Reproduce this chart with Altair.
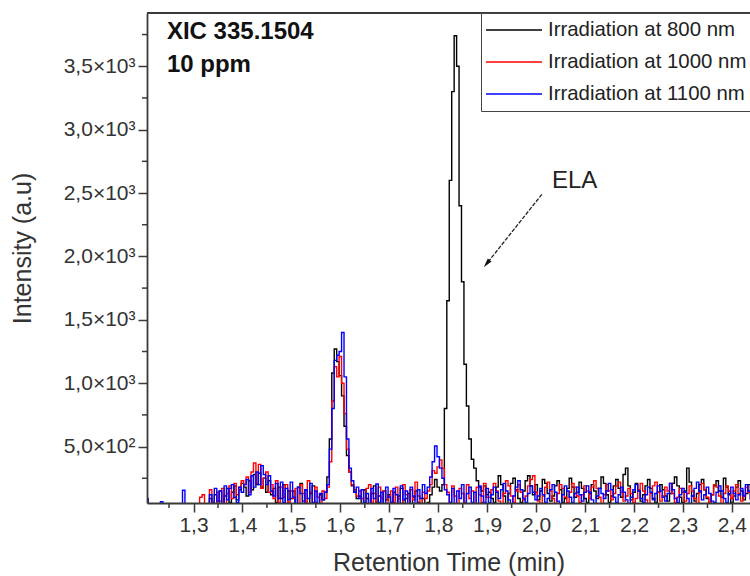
import altair as alt
import pandas as pd

# Sampling grid of the chromatograms (min)
T0 = 1.205
DT = 0.005

# XIC 335.1504 intensities (a.u.), one value per sample
BLACK_800 = [
    0, 0, 0, 0, 0, 0, 0, 0, 0, 0, 0, 0, 0, 0, 0, 0, 0, 0, 0, 0,
    0, 0, 0, 0, 0, 40, 90, 20, 120, 50, 150, 30, 110, 170, 60, 140, 190, 80, 160, 210,
    180, 110, 230, 160, 280, 200, 290, 180, 250, 140, 230, 120, 170, 60, 180, 90, 200, 50, 150, 90,
    150, 50, 180, 210, 70, 160, 40, 130, 190, 60, 40, 120, 80, 140, 260, 560, 1080, 1270, 1170, 1060,
    900, 660, 430, 300, 190, 140, 90, 110, 50, 160, 90, 40, 130, 190, 60, 110, 40, 150, 80, 120,
    60, 140, 40, 110, 170, 50, 90, 130, 40, 100, 150, 60, 40, 90, 50, 60, 120, 180, 240, 180,
    150, 200, 800, 1650, 2600, 3300, 3740, 3500, 2400, 1800, 1150, 820, 560, 400, 330, 230, 180, 150, 190, 120,
    140, 90, 60, 180, 270, 200, 110, 50, 130, 210, 250, 160, 90, 60, 150, 230, 270, 190, 120, 200,
    80, 150, 240, 210, 130, 70, 110, 190, 230, 160, 60, 90, 170, 250, 180, 100, 140, 220, 170, 90,
    60, 130, 200, 150, 90, 170, 260, 210, 120, 60, 110, 190, 240, 170, 100, 280, 330, 190, 80, 140,
    210, 150, 70, 120, 190, 240, 170, 90, 60, 140, 200, 160, 110, 70, 130, 210, 260, 190, 100, 60,
    150, 330, 220, 110, 70, 130, 200, 240, 160, 90, 50, 120, 190, 230, 150, 100, 250, 180, 120, 60,
    110, 180, 230, 150, 80, 130, 200, 160,
]
RED_1000 = [
    0, 0, 0, 0, 0, 0, 0, 0, 0, 0, 0, 0, 0, 0, 0, 0, 0, 0, 0, 0,
    0, 0, 100, 120, 0, 40, 160, 60, 30, 140, 70, 170, 50, 130, 190, 90, 210, 120, 180, 230,
    200, 260, 140, 300, 370, 210, 360, 170, 250, 300, 140, 200, 90, 230, 60, 180, 100, 200, 60, 150,
    90, 170, 40, 200, 130, 60, 230, 140, 50, 180, 100, 40, 150, 90, 180, 380, 860, 1130, 1050, 1210,
    1000, 760, 480, 300, 200, 160, 110, 150, 90, 40, 170, 200, 60, 130, 40, 180, 90, 150, 50, 110,
    150, 60, 180, 90, 40, 200, 120, 50, 160, 80, 220, 110, 50, 140, 90, 150, 200, 310, 290, 340,
    395, 330, 200, 140, 60, 190, 110, 40, 170, 130, 60, 200, 90, 150, 40, 180, 120, 60, 210, 100,
    100, 160, 210, 150, 70, 40, 130, 230, 190, 110, 60, 150, 200, 140, 80, 110, 190, 240, 270, 140,
    70, 40, 110, 180, 220, 150, 90, 50, 130, 200, 170, 100, 60, 140, 210, 180, 110, 60, 120, 190,
    150, 90, 180, 230, 170, 100, 50, 120, 200, 150, 80, 130, 190, 220, 140, 70, 110, 170, 130, 60,
    90, 160, 210, 150, 80, 40, 130, 190, 220, 140, 70, 110, 180, 150, 210, 130, 60, 100, 170, 140,
    70, 130, 190, 150, 90, 50, 140, 210, 160, 100, 60, 120, 200, 180, 110, 50, 130, 190, 150, 90,
    150, 200, 130, 70, 110, 180, 140, 80,
]
BLUE_1100 = [
    90, 20, 0, 0, 0, 0, 65, 0, 0, 0, 0, 0, 0, 0, 0, 155, 0, 0, 0, 0,
    0, 0, 0, 0, 0, 0, 120, 40, 170, 70, 150, 50, 190, 80, 170, 200, 100, 60, 180, 140,
    200, 240, 120, 270, 180, 300, 200, 350, 280, 200, 270, 150, 110, 210, 90, 220, 60, 170, 80, 220,
    100, 50, 180, 130, 40, 160, 90, 210, 60, 150, 40, 130, 80, 140, 200, 480, 800, 1180, 1220, 1250,
    1400, 1050, 560, 330, 230, 140, 180, 90, 160, 60, 130, 40, 170, 90, 205, 60, 140, 40, 180, 100,
    60, 170, 120, 40, 190, 80, 150, 50, 180, 110, 40, 160, 90, 200, 130, 180, 260, 380, 505, 420,
    330, 250, 160, 120, 60, 170, 40, 150, 90, 200, 50, 130, 180, 60, 140, 40, 190, 110, 60, 170,
    60, 120, 180, 140, 90, 160, 210, 150, 80, 40, 110, 180, 230, 160, 90, 60, 130, 190, 140, 80,
    110, 170, 120, 60, 90, 160, 200, 140, 70, 50, 120, 190, 150, 100, 60, 130, 180, 120, 70, 140,
    190, 140, 80, 50, 110, 170, 130, 90, 150, 210, 160, 100, 60, 120, 180, 140, 80, 50, 100, 160,
    200, 150, 90, 60, 120, 180, 140, 80, 130, 190, 150, 100, 70, 130, 210, 160, 90, 60, 120, 170,
    140, 90, 50, 110, 170, 220, 150, 80, 120, 180, 130, 70, 60, 140, 190, 150, 90, 60, 130, 180,
    130, 80, 120, 170, 110, 200, 150, 90,
]

SERIES = ["Irradiation at 800 nm", "Irradiation at 1000 nm", "Irradiation at 1100 nm"]
COLORS = ["#000000", "#ff0000", "#0000ff"]

X_DOMAIN = [1.205, 2.4369]
Y_DOMAIN = [55, 3920]
X_MAJOR = [1.3, 1.4, 1.5, 1.6, 1.7, 1.8, 1.9, 2.0, 2.1, 2.2, 2.3, 2.4]
X_MINOR = [1.25, 1.35, 1.45, 1.55, 1.65, 1.75, 1.85, 1.95, 2.05, 2.15, 2.25, 2.35]
Y_MAJOR = [500, 1000, 1500, 2000, 2500, 3000, 3500]
Y_MINOR = [250, 750, 1250, 1750, 2250, 2750, 3250, 3750]

# Annotations, placed in data coordinates
HEADER = ["XIC 335.1504", "10 ppm"]
HEADER_T = [1.2457, 1.2457]
HEADER_V = [3715, 3451]
PEAK_NAME = ["ELA"]
PEAK_NAME_T = [2.0322]
PEAK_NAME_V = [2542]
ARROW_FROM = (2.0118, 2490)
ARROW_TO = (1.899, 1943)

FONT = "Liberation Sans"
INK = "#333333"
FRAME = "#3a3a3a"
W, H = 603, 490

rows = []
for name, vals in zip(SERIES, [BLACK_800, RED_1000, BLUE_1100]):
    for i, val in enumerate(vals):
        rows.append({"t": round(T0 + i * DT, 4), "v": val, "s": name})
df = pd.DataFrame(rows)

x_enc = alt.X(
    "t:Q",
    scale=alt.Scale(domain=X_DOMAIN, nice=False, zero=False),
    axis=alt.Axis(
        values=X_MAJOR,
        labelExpr="replace(format(datum.value, '.1f'), '.', ',')",
        title="Retention Time (min)",
        titleFont=FONT, titleFontSize=25, titleFontWeight="normal", titleColor=INK,
        titleX=W / 2, titleY=59, titleBaseline="middle", titleAlign="center",
        labelFont=FONT, labelFontSize=21, labelColor=INK, labelPadding=2,
        labelFlush=False, labelOverlap=False,
        tickSize=9, tickWidth=1.5, tickColor=FRAME,
        domainColor=FRAME, domainWidth=1.8, grid=False, zindex=1,
    ),
)
y_enc = alt.Y(
    "v:Q",
    scale=alt.Scale(domain=Y_DOMAIN, nice=False, zero=False),
    axis=alt.Axis(
        values=Y_MAJOR,
        labelExpr="datum.value == 500 ? '5,0×10²' : replace(format(datum.value / 1000, '.1f'), '.', ',') + '×10³'",
        title="Intensity (a.u)",
        titleFont=FONT, titleFontSize=25, titleFontWeight="normal", titleColor=INK,
        titleX=-125, titleY=H / 2 - 10, titleAngle=270, titleBaseline="middle", titleAlign="center",
        labelFont=FONT, labelFontSize=21, labelColor=INK, labelPadding=3,
        labelOverlap=False,
        tickSize=9, tickWidth=1.5, tickColor=FRAME,
        domainColor=FRAME, domainWidth=1.8, grid=False, zindex=1,
    ),
)
color_enc = alt.Color(
    "s:N",
    scale=alt.Scale(domain=SERIES, range=COLORS),
    legend=alt.Legend(
        orient="none", legendX=334, legendY=0, title=None,
        symbolType="stroke", symbolSize=3136, symbolStrokeWidth=1.5,
        clipHeight=26, rowPadding=6, padding=4,
        strokeColor="#444444", fillColor="white",
        labelFont=FONT, labelFontSize=20.4, labelColor="#222222",
        labelOffset=5, labelLimit=0,
    ),
)


def trace(name):
    return (
        alt.Chart(df)
        .transform_filter(alt.datum.s == name)
        .mark_line(interpolate="step", clip=True, strokeWidth=1.4)
        .encode(x=x_enc, y=y_enc, color=color_enc)
    )


x_minor = (
    alt.Chart(pd.DataFrame({"t": X_MINOR}))
    .mark_rule(color=FRAME, strokeWidth=1.5)
    .encode(x="t:Q", y=alt.value(H), y2=alt.value(H + 5))
)
y_minor = (
    alt.Chart(pd.DataFrame({"v": Y_MINOR}))
    .mark_rule(color=FRAME, strokeWidth=1.5)
    .encode(y="v:Q", x=alt.value(-5), x2=alt.value(0))
)
top_edge = (
    alt.Chart(pd.DataFrame({"v": [Y_DOMAIN[1]]}))
    .mark_rule(color=FRAME, strokeWidth=1.8)
    .encode(y="v:Q")
)
header = (
    alt.Chart(pd.DataFrame({"t": HEADER_T, "v": HEADER_V, "label": HEADER}))
    .mark_text(align="left", baseline="alphabetic", font=FONT, fontSize=24,
               fontWeight="bold", color="#111111")
    .encode(x="t:Q", y="v:Q", text="label:N")
)
peak_name = (
    alt.Chart(pd.DataFrame({"t": PEAK_NAME_T, "v": PEAK_NAME_V, "label": PEAK_NAME}))
    .mark_text(align="left", baseline="alphabetic", font=FONT, fontSize=24, color="#222222")
    .encode(x="t:Q", y="v:Q", text="label:N")
)
arrow_shaft = (
    alt.Chart(pd.DataFrame({"t": [ARROW_FROM[0]], "v": [ARROW_FROM[1]],
                            "t2": [ARROW_TO[0]], "v2": [ARROW_TO[1]]}))
    .mark_rule(color="#222222", strokeWidth=1.3, strokeDash=[4, 1.5])
    .encode(x="t:Q", y="v:Q", x2="t2:Q", y2="v2:Q")
)
arrow_head = (
    alt.Chart(pd.DataFrame({"t": [ARROW_TO[0]], "v": [ARROW_TO[1]]}))
    .mark_point(shape="M0,-1L0.5,1L-0.5,1Z", size=90, angle=218.5,
                filled=True, color="#111111", opacity=1)
    .encode(x="t:Q", y="v:Q")
)

chart = (
    alt.layer(
        trace(SERIES[0]), trace(SERIES[1]), trace(SERIES[2]),
        x_minor, y_minor, top_edge, header, peak_name, arrow_shaft, arrow_head,
    )
    .properties(
        width=W, height=H,
        autosize=alt.AutoSizeParams(type="none"),
        padding={"left": 147, "top": 13, "right": 0, "bottom": 73},
        background="white",
    )
    .configure(font=FONT)
    .configure_view(stroke=None)
)

chart.save("out.html", embed_options={"renderer": "svg", "actions": False})
